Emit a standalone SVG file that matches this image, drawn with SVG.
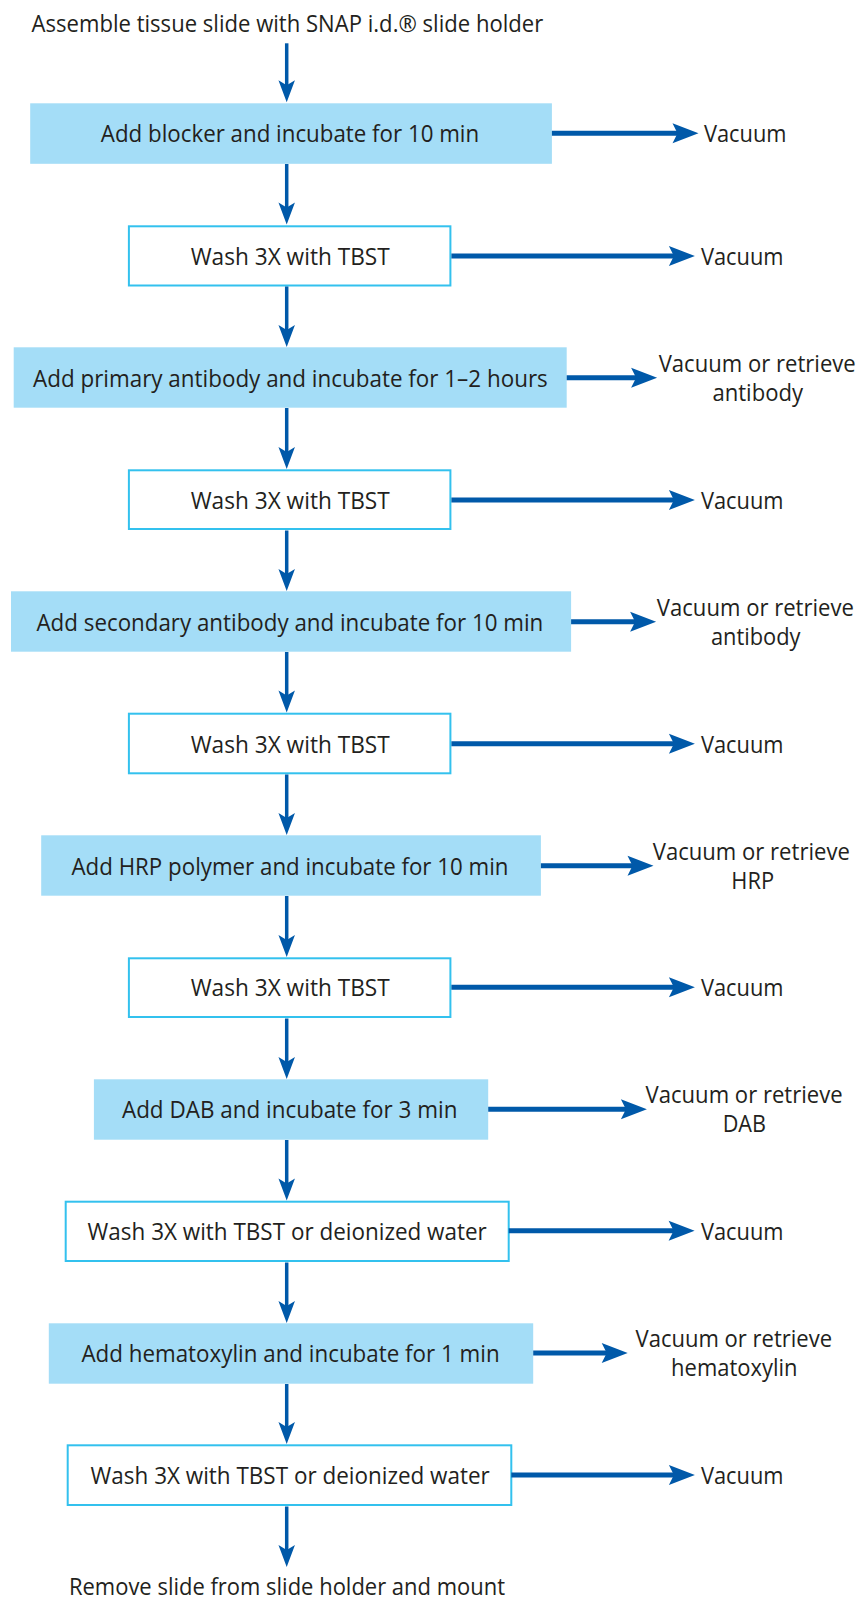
<svg xmlns="http://www.w3.org/2000/svg" width="861" height="1598" viewBox="0 0 861 1598">
<style>
.bg{fill:#ffffff}
.blue{fill:#A4DDF7;stroke:none}
.white{fill:#ffffff;stroke:#33C1EE;stroke-width:2}
.t{font-family:"Open Sans","Noto Sans",sans-serif;fill:#231F20;text-anchor:middle}
.bt{font-size:24px}
.lt{font-size:23px}
.ls{font-family:"Open Sans","Noto Sans",sans-serif;fill:#231F20;font-size:23px}
.v{stroke:#0059A9;stroke-width:3.5;fill:none;marker-end:url(#mv)}
.h{stroke:#0059A9;stroke-width:5;fill:none;marker-end:url(#mh)}
</style>
<defs>
<marker id="mv" markerUnits="userSpaceOnUse" markerWidth="22" markerHeight="17" refX="7" refY="8.25" orient="auto" overflow="visible">
<path d="M0,0 L22,8.25 L0,16.5 L5,8.25 Z" fill="#0059A9"/>
</marker>
<marker id="mh" markerUnits="userSpaceOnUse" markerWidth="26" markerHeight="20" refX="8" refY="10" orient="auto" overflow="visible">
<path d="M0,0 L26,10 L0,20 L5,10 Z" fill="#0059A9"/>
</marker>
</defs>
<rect class="bg" x="0" y="0" width="861" height="1598"/>

<g id="start"><text class="t lt" x="287.4" y="32.3" textLength="511.7" lengthAdjust="spacingAndGlyphs">Assemble tissue slide with SNAP i.d.® slide holder</text></g>

<g id="n1"><rect class="blue" x="30.2" y="103.3" width="521.7" height="60.5"/><text class="t bt" x="290" y="142" textLength="378.3" lengthAdjust="spacingAndGlyphs">Add blocker and incubate for 10 min</text></g>
<g id="n2"><rect class="white" x="128.9" y="226.3" width="321.5" height="59.2"/><text class="t bt" x="290.2" y="265" textLength="199.1" lengthAdjust="spacingAndGlyphs">Wash 3X with TBST</text></g>
<g id="n3"><rect class="blue" x="13.7" y="347.3" width="553" height="60.4"/><text class="t bt" x="290.4" y="386.5" textLength="514.7" lengthAdjust="spacingAndGlyphs">Add primary antibody and incubate for 1–2 hours</text></g>
<g id="n4"><rect class="white" x="128.9" y="470.3" width="321.5" height="58.7"/><text class="t bt" x="290.2" y="508.8" textLength="199.1" lengthAdjust="spacingAndGlyphs">Wash 3X with TBST</text></g>
<g id="n5"><rect class="blue" x="11" y="591.3" width="560.1" height="60.4"/><text class="t bt" x="289.9" y="630.5" textLength="506.8" lengthAdjust="spacingAndGlyphs">Add secondary antibody and incubate for 10 min</text></g>
<g id="n6"><rect class="white" x="128.9" y="713.7" width="321.5" height="59.6"/><text class="t bt" x="290.2" y="752.5" textLength="199.1" lengthAdjust="spacingAndGlyphs">Wash 3X with TBST</text></g>
<g id="n7"><rect class="blue" x="41.2" y="835.3" width="499.7" height="60.4"/><text class="t bt" x="290" y="874.5" textLength="437" lengthAdjust="spacingAndGlyphs">Add HRP polymer and incubate for 10 min</text></g>
<g id="n8"><rect class="white" x="128.9" y="958.3" width="321.5" height="58.7"/><text class="t bt" x="290.2" y="996.2" textLength="199.1" lengthAdjust="spacingAndGlyphs">Wash 3X with TBST</text></g>
<g id="n9"><rect class="blue" x="93.9" y="1079.3" width="394.3" height="60.4"/><text class="t bt" x="289.7" y="1118.2" textLength="335.5" lengthAdjust="spacingAndGlyphs">Add DAB and incubate for 3 min</text></g>
<g id="n10"><rect class="white" x="65.7" y="1201.7" width="443" height="59.3"/><text class="t bt" x="287.2" y="1239.6" textLength="399.2" lengthAdjust="spacingAndGlyphs">Wash 3X with TBST or deionized water</text></g>
<g id="n11"><rect class="blue" x="48.8" y="1323.3" width="484.4" height="60.4"/><text class="t bt" x="290.5" y="1362" textLength="418.2" lengthAdjust="spacingAndGlyphs">Add hematoxylin and incubate for 1 min</text></g>
<g id="n12"><rect class="white" x="67.7" y="1445.3" width="443.6" height="59.7"/><text class="t bt" x="290.2" y="1484" textLength="399.2" lengthAdjust="spacingAndGlyphs">Wash 3X with TBST or deionized water</text></g>

<g id="end"><text class="t lt" x="287" y="1594.5" textLength="436.1" lengthAdjust="spacingAndGlyphs">Remove slide from slide holder and mount</text></g>

<g id="outputs">
<text class="ls" x="703.9" y="142.3" textLength="82.6" lengthAdjust="spacingAndGlyphs">Vacuum</text>
<text class="ls" x="700.9" y="265" textLength="82.6" lengthAdjust="spacingAndGlyphs">Vacuum</text>
<text class="t lt" x="757.2" y="371.7" textLength="197.1" lengthAdjust="spacingAndGlyphs">Vacuum or retrieve</text>
<text class="t lt" x="757.7" y="401" textLength="90.6" lengthAdjust="spacingAndGlyphs">antibody</text>
<text class="ls" x="700.9" y="509" textLength="82.6" lengthAdjust="spacingAndGlyphs">Vacuum</text>
<text class="t lt" x="755.4" y="615.7" textLength="197.1" lengthAdjust="spacingAndGlyphs">Vacuum or retrieve</text>
<text class="t lt" x="755.7" y="645" textLength="89.6" lengthAdjust="spacingAndGlyphs">antibody</text>
<text class="ls" x="700.9" y="752.7" textLength="82.6" lengthAdjust="spacingAndGlyphs">Vacuum</text>
<text class="t lt" x="751.3" y="860" textLength="197.1" lengthAdjust="spacingAndGlyphs">Vacuum or retrieve</text>
<text class="t lt" x="752.7" y="889" textLength="42.8" lengthAdjust="spacingAndGlyphs">HRP</text>
<text class="ls" x="700.9" y="996.3" textLength="82.6" lengthAdjust="spacingAndGlyphs">Vacuum</text>
<text class="t lt" x="744.1" y="1103.3" textLength="197.1" lengthAdjust="spacingAndGlyphs">Vacuum or retrieve</text>
<text class="t lt" x="744.3" y="1132" textLength="43.3" lengthAdjust="spacingAndGlyphs">DAB</text>
<text class="ls" x="700.9" y="1239.7" textLength="82.6" lengthAdjust="spacingAndGlyphs">Vacuum</text>
<text class="t lt" x="733.8" y="1347" textLength="196.6" lengthAdjust="spacingAndGlyphs">Vacuum or retrieve</text>
<text class="t lt" x="734.3" y="1376" textLength="126.4" lengthAdjust="spacingAndGlyphs">hematoxylin</text>
<text class="ls" x="700.9" y="1484" textLength="82.6" lengthAdjust="spacingAndGlyphs">Vacuum</text>
</g>

<g id="connectors">
<line class="v" x1="286.7" y1="43.3" x2="286.7" y2="87.3"/>
<line class="v" x1="286.7" y1="164" x2="286.7" y2="209.5"/>
<line class="v" x1="286.7" y1="286.5" x2="286.7" y2="332"/>
<line class="v" x1="286.7" y1="408" x2="286.7" y2="454"/>
<line class="v" x1="286.7" y1="530.5" x2="286.7" y2="576"/>
<line class="v" x1="286.7" y1="652" x2="286.7" y2="697.5"/>
<line class="v" x1="286.7" y1="774.5" x2="286.7" y2="820"/>
<line class="v" x1="286.7" y1="896" x2="286.7" y2="942"/>
<line class="v" x1="286.7" y1="1018.5" x2="286.7" y2="1064"/>
<line class="v" x1="286.7" y1="1140" x2="286.7" y2="1185.5"/>
<line class="v" x1="286.7" y1="1262.5" x2="286.7" y2="1308"/>
<line class="v" x1="286.7" y1="1384" x2="286.7" y2="1429"/>
<line class="v" x1="286.7" y1="1506.5" x2="286.7" y2="1552"/>

<line class="h" x1="551.9" y1="133.3" x2="680.5" y2="133.3"/>
<line class="h" x1="451.4" y1="256" x2="676.9" y2="256"/>
<line class="h" x1="566.7" y1="377.7" x2="639.1" y2="377.7"/>
<line class="h" x1="451.4" y1="500" x2="676.9" y2="500"/>
<line class="h" x1="571.1" y1="621.7" x2="638.1" y2="621.7"/>
<line class="h" x1="451.4" y1="743.7" x2="676.9" y2="743.7"/>
<line class="h" x1="540.9" y1="865.7" x2="635.5" y2="865.7"/>
<line class="h" x1="451.4" y1="987.3" x2="676.9" y2="987.3"/>
<line class="h" x1="488.2" y1="1109.3" x2="628.9" y2="1109.3"/>
<line class="h" x1="508.7" y1="1230.7" x2="676.6" y2="1230.7"/>
<line class="h" x1="533.2" y1="1353" x2="609.7" y2="1353"/>
<line class="h" x1="511.3" y1="1475" x2="676.9" y2="1475"/>
</g>
</svg>
